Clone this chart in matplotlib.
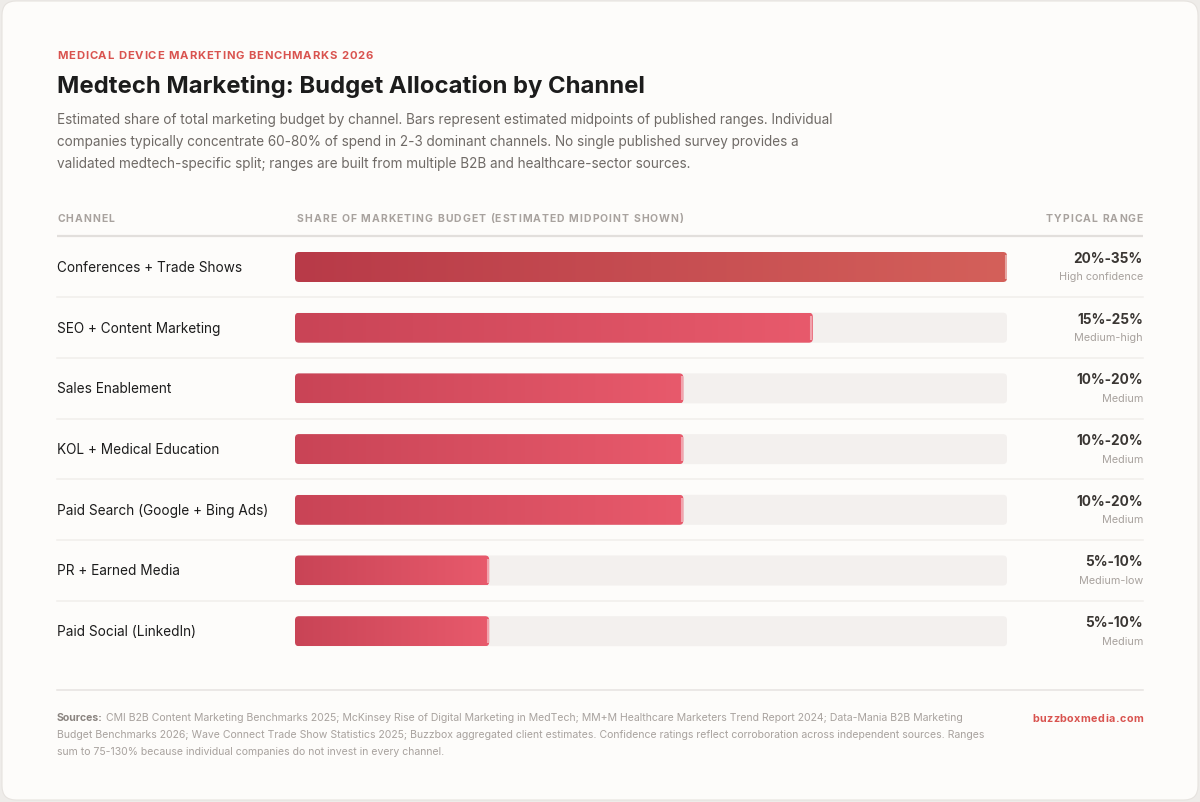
import matplotlib
matplotlib.use('Agg')
import matplotlib.pyplot as plt
import matplotlib.patches as mpatches
from matplotlib.colors import LinearSegmentedColormap
import numpy as np

plt.rcParams['font.family'] = ['Inter', 'DejaVu Sans']

# ── data ────────────────────────────────────────────────────────────────
channels = ['Conferences + Trade Shows', 'SEO + Content Marketing', 'Sales Enablement',
            'KOL + Medical Education', 'Paid Search (Google + Bing Ads)',
            'PR + Earned Media', 'Paid Social (LinkedIn)']
range_low = [20, 15, 10, 10, 10, 5, 5]
range_high = [35, 25, 20, 20, 20, 10, 10]
midpoints = [27.5, 20, 15, 15, 15, 7.5, 7.5]
confidence = ['High confidence', 'Medium-high', 'Medium', 'Medium', 'Medium',
              'Medium-low', 'Medium']

# ── colours ─────────────────────────────────────────────────────────────
OUTER = '#eeece9'
CARD = '#fdfcfa'
RED = '#d9534f'
DARK = '#1c1c1c'
GREY = '#6f6a66'
LIGHT = '#a8a29e'
TRACK = '#f3f0ee'

W, H = 1200, 803
fig = plt.figure(figsize=(W / 100, H / 100), dpi=100)
fig.patch.set_facecolor(OUTER)
ax = fig.add_axes([0, 0, 1, 1])
ax.set_xlim(0, W)
ax.set_ylim(H, 0)
ax.axis('off')
renderer = fig.canvas.get_renderer()

ax.add_patch(mpatches.FancyBboxPatch((2, 2), W - 4, H - 4,
                                     boxstyle='round,pad=0,rounding_size=14',
                                     facecolor=CARD, edgecolor='#e6e3df', lw=0.8))


def text_w(t):
    return t.get_window_extent(renderer).width


def spaced(x, y, s, track, ha='left', **kw):
    """text with letter spacing (px)"""
    widths = []
    for ch in s:
        t = ax.text(0, 0, ch, **kw)
        widths.append(text_w(t))
        t.remove()
    total = sum(widths) + track * (len(s) - 1)
    if ha == 'right':
        x = x - total
    for ch, w in zip(s, widths):
        ax.text(x, y, ch, ha='left', **kw)
        x += w + track


# ── header ──────────────────────────────────────────────────────────────
spaced(57, 56, 'MEDICAL DEVICE MARKETING BENCHMARKS 2026', 0.85,
       fontsize=8.1, fontweight='bold', color=RED, va='center')
ax.text(57, 87, 'Medtech Marketing: Budget Allocation by Channel', fontsize=17.2,
        fontweight='bold', color=DARK, va='center')
sub = ['Estimated share of total marketing budget by channel. Bars represent estimated midpoints of published ranges. Individual',
       'companies typically concentrate 60-80% of spend in 2-3 dominant channels. No single published survey provides a',
       'validated medtech-specific split; ranges are built from multiple B2B and healthcare-sector sources.']
for i, line in enumerate(sub):
    ax.text(57, 120 + 22 * i, line, fontsize=9.75, color=GREY, va='center')

# column headers
hkw = dict(fontsize=7.5, fontweight='bold', color=LIGHT, va='center')
spaced(57, 219, 'CHANNEL', 1.05, **hkw)
spaced(297, 219, 'SHARE OF MARKETING BUDGET (ESTIMATED MIDPOINT SHOWN)', 1.05, **hkw)
spaced(1143, 219, 'TYPICAL RANGE', 1.05, ha='right', **hkw)
ax.plot([57, 1143], [237, 237], color='#e2dfdc', lw=1.6, solid_capstyle='butt')

# ── rows ────────────────────────────────────────────────────────────────
x0, x1 = 295, 1007
bh = 30
row0, step = 268, 60.7
vmax = max(midpoints)
cmap_top = LinearSegmentedColormap.from_list('top', ['#b83a48', '#d4605a'])
cmap_rest = LinearSegmentedColormap.from_list('rest', ['#c94456', '#e85a6c'])
grad = np.linspace(0, 1, 256).reshape(1, -1)

for i, (name, lo, hi, mid, conf) in enumerate(zip(channels, range_low, range_high,
                                                     midpoints, confidence)):
    cy = row0 + step * i
    ax.text(57, cy, name, fontsize=9.8, color=DARK, va='center')
    # track
    ax.add_patch(mpatches.FancyBboxPatch((x0, cy - bh / 2), x1 - x0, bh,
                                         boxstyle='round,pad=0,rounding_size=4',
                                         facecolor=TRACK, edgecolor='none'))
    bw = (x1 - x0) * mid / vmax
    clip = mpatches.FancyBboxPatch((x0, cy - bh / 2), bw, bh,
                                   boxstyle='round,pad=0,rounding_size=4',
                                   facecolor='none', edgecolor='none')
    ax.add_patch(clip)
    im = ax.imshow(grad, cmap=cmap_top if i == 0 else cmap_rest, aspect='auto',
                   extent=(x0, x0 + bw, cy + bh / 2, cy - bh / 2),
                   interpolation='bilinear', zorder=2)
    im.set_clip_path(clip)
    ax.plot([x0 + bw - 1.5, x0 + bw - 1.5], [cy - bh / 2 + 3, cy + bh / 2 - 3],
            color='white', alpha=0.45, lw=1.5, zorder=3, solid_capstyle='butt')
    # range column
    ax.text(1143, cy - 9, f'{lo}%-{hi}%', fontsize=9.8, fontweight='bold',
            color='#3a3633', ha='right', va='center')
    ax.text(1143, cy + 9.5, conf, fontsize=7.8, color=LIGHT, ha='right', va='center')
    if i < len(channels) - 1:
        ax.plot([57, 1143], [cy + step / 2, cy + step / 2], color='#f1eeeb', lw=1.1)

# ── footer ──────────────────────────────────────────────────────────────
ax.plot([57, 1143], [691, 691], color='#e6e3e0', lw=1.1)
fkw = dict(fontsize=7.55, va='center')
t = ax.text(57, 718, 'Sources:', fontweight='bold', color='#8a8480', **fkw)
sw = text_w(t)
ax.text(57 + sw + 3, 718, 'CMI B2B Content Marketing Benchmarks 2025; McKinsey Rise of Digital Marketing in MedTech; '
        'MM+M Healthcare Marketers Trend Report 2024; Data-Mania B2B Marketing', color=LIGHT, **fkw)
ax.text(57, 735, 'Budget Benchmarks 2026; Wave Connect Trade Show Statistics 2025; Buzzbox aggregated client estimates. '
        'Confidence ratings reflect corroboration across independent sources. Ranges', color=LIGHT, **fkw)
ax.text(57, 752, 'sum to 75-130% because individual companies do not invest in every channel.',
        color=LIGHT, **fkw)
spaced(1143, 719, 'buzzboxmedia.com', 0.5, ha='right', fontsize=7.8,
       fontweight='bold', color=RED, va='center')

fig.savefig('out.png', dpi=100, facecolor=OUTER)
